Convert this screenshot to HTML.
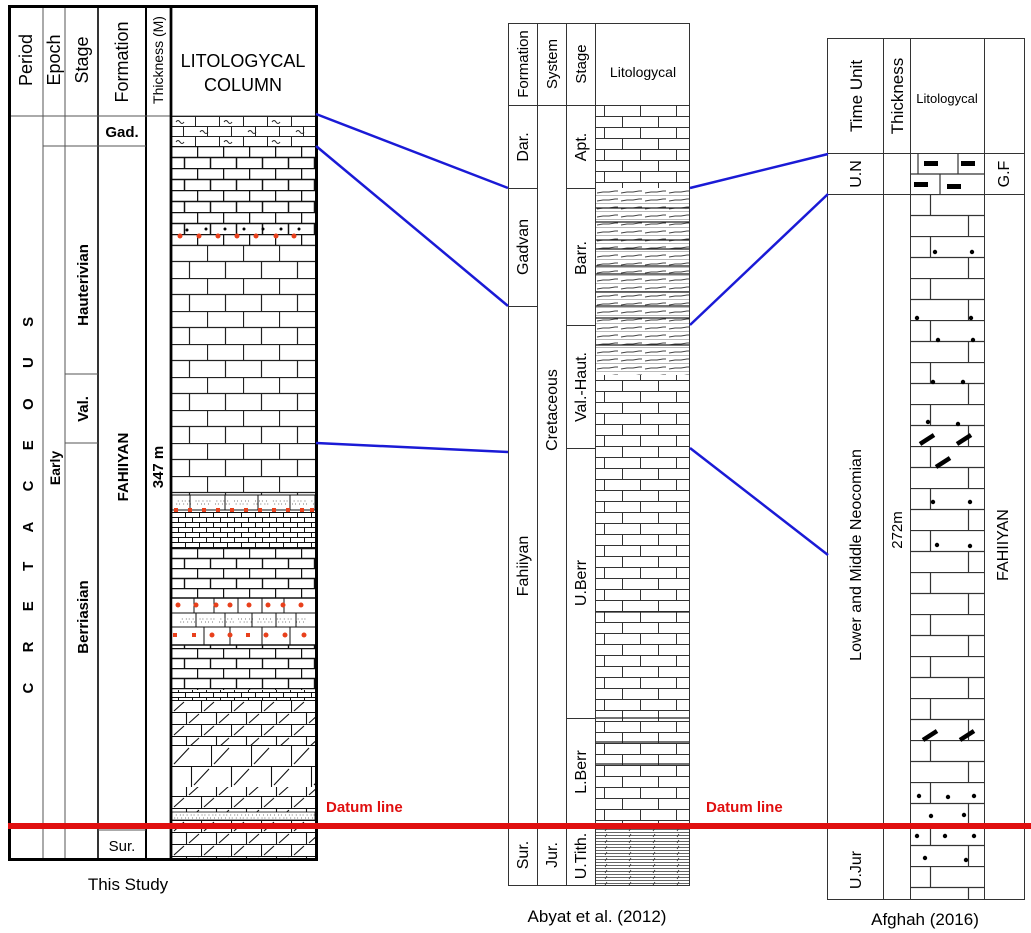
<!DOCTYPE html>
<html><head><meta charset="utf-8"><style>
html,body{margin:0;padding:0;background:#fff;}
svg{display:block;font-family:"Liberation Sans",Arial,sans-serif;}
</style></head><body>
<svg width="1031" height="933" viewBox="0 0 1031 933" xmlns="http://www.w3.org/2000/svg">
<defs>
<clipPath id="lc"><rect x="172" y="116" width="143" height="743"/></clipPath>
<pattern id="b16" width="36" height="33" patternUnits="userSpaceOnUse" x="171" y="245">
<path d="M0 0.5H36M0 16.5H36M0.5 0V16.5M18.5 16.5V33" stroke="#222" stroke-width="1.2" fill="none"/></pattern>
<pattern id="b11" width="26" height="22" patternUnits="userSpaceOnUse" x="171" y="146">
<path d="M0 0.5H26M0 11.5H26M0.5 0V11.5M13.5 11.5V22" stroke="#111" stroke-width="1.5" fill="none"/></pattern>
<pattern id="b10" width="26" height="20" patternUnits="userSpaceOnUse" x="171" y="548">
<path d="M0 0.5H26M0 10.5H26M0.5 0V10.5M13.5 10.5V20" stroke="#111" stroke-width="1.4" fill="none"/></pattern>
<pattern id="b5" width="14" height="10" patternUnits="userSpaceOnUse" x="171" y="512">
<path d="M0 0.5H14M0 5.5H14M0.5 0V5.5M7.5 5.5V10" stroke="#111" stroke-width="1" fill="none"/></pattern>
<pattern id="gad" width="48" height="20" patternUnits="userSpaceOnUse" x="171" y="116">
<path d="M0 0.5H48M0 10.5H48M0.5 0V10.5M24.5 0V10.5M12.5 10.5V20M36.5 10.5V20" stroke="#222" stroke-width="1" fill="none"/>
<path d="M5 6q2-3 4 0t4 0M29 16q2-3 4 0t4 0" stroke="#222" fill="none"/></pattern>
<pattern id="dol" width="30" height="24" patternUnits="userSpaceOnUse" x="171" y="700">
<path d="M0 0.5H30M0 12.5H30M0.5 0V12.5M15.5 12.5V24M3 11L13 2M18 23L28 14" stroke="#111" stroke-width="1.1" fill="none"/></pattern>
<pattern id="dolb" width="40" height="42" patternUnits="userSpaceOnUse" x="171" y="745">
<path d="M0 0.5H40M0 21.5H40M0.5 0V21.5M20.5 21.5V42M3 19L18 3M23 40L38 24" stroke="#111" stroke-width="1.1" fill="none"/></pattern>
<pattern id="mb" width="36" height="22" patternUnits="userSpaceOnUse" x="595" y="105">
<path d="M0 0.5H36M0 11.5H36M9.5 0V11.5M27.5 11.5V22" stroke="#333" stroke-width="1" fill="none"/></pattern>
<pattern id="sh" width="24" height="8" patternUnits="userSpaceOnUse" x="595" y="188">
<path d="M2 5L8 4H14M14 4L20 3H23" stroke="#444" stroke-width="1" fill="none"/><path d="M0 7.5H24" stroke="#777" stroke-width="0.6"/></pattern>
<pattern id="tith" width="24" height="6" patternUnits="userSpaceOnUse" x="595" y="826">
<path d="M0 0.5H24M0 3.5H24" stroke="#333" stroke-width="0.8"/><path d="M10 5L12 2" stroke="#333" stroke-width="0.8"/></pattern>
<pattern id="rb" width="75" height="42" patternUnits="userSpaceOnUse" x="910" y="194">
<path d="M0 0.5H75M0 21.5H75M20.5 0V21.5M58.5 21.5V42" stroke="#333" stroke-width="1.2" fill="none"/></pattern>
</defs>

<!-- ===== LEFT COLUMN ===== -->
<g fill="none" stroke="#000">
<rect x="9.5" y="6.5" width="307" height="853" stroke-width="3"/>
<line x1="43" y1="6" x2="43" y2="860" stroke="#555"/>
<line x1="65" y1="6" x2="65" y2="860" stroke="#555"/>
<line x1="98" y1="6" x2="98" y2="860" stroke-width="1.6"/>
<line x1="146" y1="6" x2="146" y2="860" stroke-width="2"/>
<line x1="171" y1="6" x2="171" y2="860" stroke-width="2.5"/>
<line x1="9" y1="116" x2="316" y2="116" stroke="#555"/>
<line x1="43" y1="146" x2="146" y2="146" stroke="#555"/>
<line x1="65" y1="374" x2="98" y2="374" stroke="#555"/>
<line x1="65" y1="443" x2="98" y2="443" stroke="#555"/>
<line x1="98" y1="830" x2="146" y2="830" stroke="#555"/>
</g>
<g clip-path="url(#lc)">
<rect x="172" y="116" width="143" height="30" fill="url(#gad)"/>
<rect x="172" y="146" width="143" height="84" fill="url(#b11)"/>
<rect x="172" y="230" width="143" height="15" fill="url(#b11)"/>
<g fill="#e8401c"><circle cx="180" cy="236" r="2.5"/><circle cx="199" cy="236" r="2.5"/><circle cx="218" cy="236" r="2.5"/><circle cx="237" cy="236" r="2.5"/><circle cx="256" cy="236" r="2.5"/><circle cx="276" cy="236" r="2.5"/><circle cx="294" cy="236" r="2.5"/></g>
<g fill="#000"><circle cx="187" cy="230" r="1.5"/><circle cx="206" cy="229" r="1.5"/><circle cx="225" cy="229" r="1.5"/><circle cx="244" cy="229" r="1.5"/><circle cx="263" cy="229" r="1.5"/><circle cx="281" cy="229" r="1.5"/><circle cx="299" cy="229" r="1.5"/></g>
<rect x="172" y="245" width="143" height="250" fill="url(#b16)"/>
<rect x="172" y="495" width="143" height="15" fill="#fff" stroke="#111"/>
<g stroke="#111" stroke-width="1"><line x1="190" y1="495" x2="190" y2="510"/><line x1="225" y1="495" x2="225" y2="510"/><line x1="258" y1="495" x2="258" y2="510"/><line x1="290" y1="495" x2="290" y2="510"/></g>
<text x="176" y="505" font-size="7" fill="#444" letter-spacing="1">∴∵∴ ∵∴∵ ∴∵∴ ∵∴∵ ∴∵∴ ∵∴∵ ∴∵∴ ∵∴∵</text>
<g fill="#e8401c"><rect x="174" y="508" width="4" height="4"/><rect x="188" y="508" width="4" height="4"/><rect x="202" y="508" width="4" height="4"/><rect x="216" y="508" width="4" height="4"/><rect x="230" y="508" width="4" height="4"/><rect x="244" y="508" width="4" height="4"/><rect x="258" y="508" width="4" height="4"/><rect x="272" y="508" width="4" height="4"/><rect x="286" y="508" width="4" height="4"/><rect x="300" y="508" width="4" height="4"/><rect x="310" y="508" width="4" height="4"/></g>
<rect x="172" y="512" width="143" height="36" fill="url(#b5)"/>
<rect x="172" y="548" width="143" height="50" fill="url(#b10)"/>
<rect x="172" y="598" width="143" height="47" fill="#fff"/>
<g stroke="#111" fill="none"><line x1="172" y1="598" x2="316" y2="598" stroke-width="1.5"/><line x1="172" y1="613" x2="316" y2="613"/><line x1="172" y1="627" x2="316" y2="627"/><line x1="172" y1="645" x2="316" y2="645" stroke-width="1.5"/>
<path d="M194 598V613M214 598V613M238 598V613M262 598V613M284 598V613M196 613V627M225 613V627M252 613V627M276 613V627M296 613V627M204 627V645M230 627V645M262 627V645M290 627V645"/></g>
<g fill="#e8401c"><circle cx="178" cy="605" r="2.5"/><circle cx="196" cy="605" r="2.5"/><circle cx="216" cy="605" r="2.5"/><circle cx="230" cy="605" r="2.5"/><circle cx="249" cy="605" r="2.5"/><circle cx="268" cy="605" r="2.5"/><circle cx="283" cy="605" r="2.5"/><circle cx="301" cy="605" r="2.5"/>
<rect x="173" y="633" width="4" height="4"/><rect x="192" y="633" width="4" height="4"/><circle cx="212" cy="635" r="2.5"/><circle cx="230" cy="635" r="2.5"/><rect x="246" y="633" width="4" height="4"/><circle cx="266" cy="635" r="2.5"/><circle cx="285" cy="635" r="2.5"/><circle cx="304" cy="635" r="2.5"/></g>
<text x="180" y="623" font-size="7" fill="#444" letter-spacing="1">∴∵∴ ∵∴∵ ∴∵∴ ∵∴∵ ∴∵∴ ∵∴∵ ∴∵</text>
<rect x="172" y="645" width="143" height="45" fill="url(#b10)"/>
<rect x="172" y="690" width="143" height="10" fill="url(#b5)"/>
<rect x="172" y="700" width="143" height="45" fill="url(#dol)"/>
<rect x="172" y="745" width="143" height="42" fill="url(#dolb)"/>
<rect x="172" y="787" width="143" height="25" fill="url(#dol)"/>
<rect x="172" y="812" width="143" height="8" fill="#fff" stroke="#111" stroke-width="0.8"/>
<text x="174" y="819" font-size="7" fill="#444" letter-spacing="1">∴∵∴∵∴∵∴∵∴∵∴∵∴∵∴∵∴∵∴∵∴∵∴∵∴∵∴∵</text>
<rect x="172" y="820" width="143" height="39" fill="url(#dol)"/>
</g>
<rect x="9.5" y="6.5" width="307" height="853" stroke-width="3" stroke="#000" fill="none"/>
<line x1="171" y1="6" x2="171" y2="860" stroke="#000" stroke-width="2.5"/>

<g font-size="16" fill="#000">
<text transform="translate(32,60) rotate(-90)" text-anchor="middle" font-size="18">Period</text>
<text transform="translate(60,60) rotate(-90)" text-anchor="middle" font-size="18">Epoch</text>
<text transform="translate(88,60) rotate(-90)" text-anchor="middle" font-size="18">Stage</text>
<text transform="translate(128,62) rotate(-90)" text-anchor="middle" font-size="18">Formation</text>
<text transform="translate(163,60) rotate(-90)" text-anchor="middle" font-size="14">Thickness (M)</text>
<text x="243" y="67" text-anchor="middle" font-size="18">LITOLOGYCAL</text>
<text x="243" y="91" text-anchor="middle" font-size="18">COLUMN</text>
</g>
<g font-weight="bold" fill="#000">
<text x="122" y="137" text-anchor="middle" font-size="15">Gad.</text>
<text transform="translate(33,490) rotate(-90)" text-anchor="middle" font-size="15" letter-spacing="30.3">CRETACEOUS</text>
<text transform="translate(60,468) rotate(-90)" text-anchor="middle" font-size="14">Early</text>
<text transform="translate(88,285) rotate(-90)" text-anchor="middle" font-size="15">Hauterivian</text>
<text transform="translate(88,409) rotate(-90)" text-anchor="middle" font-size="15">Val.</text>
<text transform="translate(88,617) rotate(-90)" text-anchor="middle" font-size="15">Berriasian</text>
<text transform="translate(128,467) rotate(-90)" text-anchor="middle" font-size="15">FAHIIYAN</text>
<text transform="translate(163,467) rotate(-90)" text-anchor="middle" font-size="15">347 m</text>
</g>
<text x="122" y="851" text-anchor="middle" font-size="15">Sur.</text>
<text x="128" y="890" text-anchor="middle" font-size="17">This Study</text>

<!-- ===== MIDDLE COLUMN ===== -->
<rect x="596" y="105" width="94" height="83" fill="url(#mb)"/>
<rect x="596" y="188" width="94" height="142" fill="url(#sh)"/>
<g stroke="#222" stroke-width="1.3"><line x1="596" y1="208" x2="690" y2="208"/><line x1="596" y1="222" x2="690" y2="222"/><line x1="596" y1="240" x2="690" y2="240"/><line x1="596" y1="249" x2="690" y2="249"/><line x1="596" y1="266" x2="690" y2="266"/><line x1="596" y1="274" x2="690" y2="274"/><line x1="596" y1="292" x2="690" y2="292"/><line x1="596" y1="306" x2="690" y2="306"/><line x1="596" y1="318" x2="690" y2="318"/></g>
<rect x="596" y="330" width="94" height="45" fill="url(#sh)"/>
<line x1="596" y1="345" x2="690" y2="345" stroke="#222" stroke-width="1.3"/>
<rect x="596" y="375" width="94" height="451" fill="url(#mb)"/>
<g stroke="#222" stroke-width="1.2"><line x1="596" y1="612" x2="690" y2="612"/><line x1="596" y1="718" x2="690" y2="718"/><line x1="596" y1="742" x2="690" y2="742"/><line x1="596" y1="764" x2="690" y2="764"/></g>
<rect x="596" y="826" width="94" height="60" fill="url(#tith)"/>
<g fill="none" stroke="#333" stroke-width="1">
<rect x="508.5" y="23.5" width="181" height="862"/>
<line x1="537.5" y1="23" x2="537.5" y2="886"/>
<line x1="566.5" y1="23" x2="566.5" y2="886"/>
<line x1="595.5" y1="23" x2="595.5" y2="886"/>
<line x1="508" y1="105.5" x2="690" y2="105.5"/>
<line x1="508" y1="188.5" x2="537" y2="188.5"/>
<line x1="508" y1="306.5" x2="537" y2="306.5"/>
<line x1="566" y1="188.5" x2="595" y2="188.5"/>
<line x1="566" y1="325.5" x2="595" y2="325.5"/>
<line x1="566" y1="448.5" x2="595" y2="448.5"/>
<line x1="566" y1="718.5" x2="595" y2="718.5"/>
</g>
<g font-size="15" fill="#000">
<text transform="translate(528,64) rotate(-90)" text-anchor="middle">Formation</text>
<text transform="translate(557,64) rotate(-90)" text-anchor="middle">System</text>
<text transform="translate(586,64) rotate(-90)" text-anchor="middle">Stage</text>
<text x="643" y="77" text-anchor="middle" font-size="14">Litologycal</text>
<text transform="translate(528,147) rotate(-90)" text-anchor="middle" font-size="16">Dar.</text>
<text transform="translate(528,247) rotate(-90)" text-anchor="middle" font-size="16">Gadvan</text>
<text transform="translate(528,566) rotate(-90)" text-anchor="middle" font-size="16">Fahiiyan</text>
<text transform="translate(528,855) rotate(-90)" text-anchor="middle" font-size="16">Sur.</text>
<text transform="translate(557,410) rotate(-90)" text-anchor="middle" font-size="16">Cretaceous</text>
<text transform="translate(557,855) rotate(-90)" text-anchor="middle" font-size="16">Jur.</text>
<text transform="translate(586,147) rotate(-90)" text-anchor="middle" font-size="16">Apt.</text>
<text transform="translate(586,258) rotate(-90)" text-anchor="middle" font-size="16">Barr.</text>
<text transform="translate(586,387) rotate(-90)" text-anchor="middle" font-size="16">Val.-Haut.</text>
<text transform="translate(586,583) rotate(-90)" text-anchor="middle" font-size="16">U.Berr</text>
<text transform="translate(586,772) rotate(-90)" text-anchor="middle" font-size="16">L.Berr</text>
<text transform="translate(586,856) rotate(-90)" text-anchor="middle" font-size="16">U.Tith.</text>
</g>
<text x="597" y="922" text-anchor="middle" font-size="17">Abyat et al. (2012)</text>

<!-- ===== RIGHT COLUMN ===== -->
<rect x="910" y="153" width="75" height="41" fill="#fff"/>
<g stroke="#333" stroke-width="1.2" fill="none"><line x1="910" y1="174" x2="985" y2="174"/><line x1="918" y1="153" x2="918" y2="174"/><line x1="958" y1="153" x2="958" y2="174"/><line x1="940" y1="174" x2="940" y2="194"/></g>
<g fill="#000"><rect x="924" y="161" width="14" height="5"/><rect x="961" y="161" width="14" height="5"/><rect x="914" y="182" width="14" height="5"/><rect x="947" y="184" width="14" height="5"/></g>
<rect x="910" y="194" width="75" height="706" fill="url(#rb)"/>
<g fill="#000">
<circle cx="935" cy="252" r="2.2"/><circle cx="972" cy="252" r="2.2"/>
<circle cx="917" cy="318" r="2.2"/><circle cx="971" cy="318" r="2.2"/>
<circle cx="938" cy="340" r="2.2"/><circle cx="973" cy="340" r="2.2"/>
<circle cx="933" cy="382" r="2.2"/><circle cx="963" cy="382" r="2.2"/>
<circle cx="928" cy="422" r="2.2"/><circle cx="958" cy="424" r="2.2"/>
<circle cx="933" cy="502" r="2.2"/><circle cx="970" cy="502" r="2.2"/>
<circle cx="937" cy="545" r="2.2"/><circle cx="970" cy="546" r="2.2"/>
<circle cx="919" cy="796" r="2.2"/><circle cx="948" cy="797" r="2.2"/><circle cx="974" cy="796" r="2.2"/>
<circle cx="931" cy="816" r="2.2"/><circle cx="964" cy="815" r="2.2"/>
<circle cx="917" cy="836" r="2.2"/><circle cx="945" cy="836" r="2.2"/><circle cx="974" cy="836" r="2.2"/>
<circle cx="925" cy="858" r="2.2"/><circle cx="966" cy="860" r="2.2"/>
</g>
<g stroke="#000" stroke-width="4.5"><line x1="920" y1="444" x2="934" y2="435"/><line x1="957" y1="444" x2="971" y2="435"/><line x1="936" y1="467" x2="950" y2="458"/><line x1="923" y1="740" x2="937" y2="731"/><line x1="960" y1="740" x2="974" y2="731"/></g>
<g fill="none" stroke="#333" stroke-width="1">
<rect x="827.5" y="38.5" width="197" height="861"/>
<line x1="883.5" y1="38" x2="883.5" y2="900"/>
<line x1="910.5" y1="38" x2="910.5" y2="900"/>
<line x1="984.5" y1="38" x2="984.5" y2="900"/>
<line x1="827" y1="153.5" x2="1025" y2="153.5"/>
<line x1="827" y1="194.5" x2="1025" y2="194.5"/>
</g>
<g font-size="16" fill="#000">
<text transform="translate(862,96) rotate(-90)" text-anchor="middle" font-size="17">Time Unit</text>
<text transform="translate(903,96) rotate(-90)" text-anchor="middle" font-size="17">Thickness</text>
<text x="947" y="103" text-anchor="middle" font-size="13">Litologycal</text>
<text transform="translate(861,174) rotate(-90)" text-anchor="middle">U.N</text>
<text transform="translate(1009,174) rotate(-90)" text-anchor="middle">G.F</text>
<text transform="translate(861,555) rotate(-90)" text-anchor="middle">Lower and Middle Neocomian</text>
<text transform="translate(902,530) rotate(-90)" text-anchor="middle" font-size="15">272m</text>
<text transform="translate(1008,545) rotate(-90)" text-anchor="middle">FAHIIYAN</text>
<text transform="translate(861,870) rotate(-90)" text-anchor="middle">U.Jur</text>
</g>
<text x="925" y="925" text-anchor="middle" font-size="17">Afghah (2016)</text>

<!-- ===== CORRELATION LINES ===== -->
<g stroke="#1a1ad6" stroke-width="2.5" fill="none">
<line x1="316" y1="114" x2="508" y2="188"/>
<line x1="316" y1="146" x2="508" y2="306"/>
<line x1="316" y1="443" x2="508" y2="452"/>
<line x1="690" y1="188" x2="828" y2="154"/>
<line x1="690" y1="325" x2="828" y2="194"/>
<line x1="690" y1="448" x2="828" y2="555"/>
</g>

<!-- ===== DATUM ===== -->
<rect x="8" y="823" width="1023" height="6" fill="#e01010"/>
<text x="326" y="812" font-size="15" font-weight="bold" fill="#e01010">Datum line</text>
<text x="706" y="812" font-size="15" font-weight="bold" fill="#e01010">Datum line</text>
</svg>
</body></html>
